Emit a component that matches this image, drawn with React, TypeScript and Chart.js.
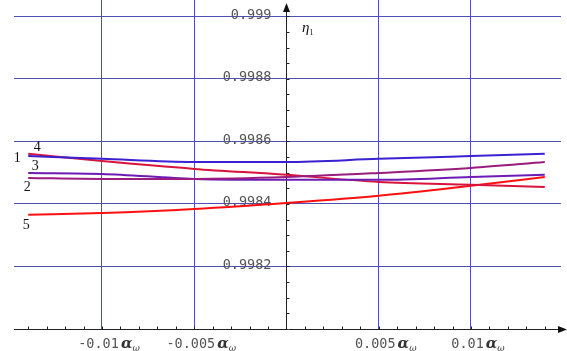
import React, { useEffect, useRef } from 'react';
import { Chart, registerables } from 'chart.js';

Chart.register(...registerables);

// ---- data ----
const xValues = [-0.014, -0.01, -0.005, 0, 0.005, 0.01, 0.014];
const curve1 = [0.998553, 0.998544, 0.998534, 0.998534, 0.998544, 0.998553, 0.99856];
const curve2 = [0.998483, 0.99848, 0.99848, 0.998486, 0.998499, 0.998515, 0.998534];
const curve3 = [0.998499, 0.998496, 0.99848, 0.998477, 0.998477, 0.998486, 0.998493];
const curve4 = [0.99856, 0.998537, 0.998512, 0.998493, 0.99847, 0.998461, 0.998454];
const curve5 = [0.998365, 0.998371, 0.998384, 0.998403, 0.998426, 0.998458, 0.998486];
const seriesNames = ['1', '2', '3', '4', '5'];
const seriesColors = ['#3a22d2', '#9a1c7e', '#6c1cb4', '#d8143c', '#ff1010'];
const xTickValues = [-0.01, -0.005, 0.005, 0.01];
const xTickLabels = ['-0.01', '-0.005', '0.005', '0.01'];
const yTickValues = [0.9982, 0.9984, 0.9986, 0.9988, 0.999];
const yTickLabels = ['0.9982', '0.9984', '0.9986', '0.9988', '0.999'];
const xMinorStep = 0.001;
const yMinorStep = 0.00005;
const xRange = [-0.01477, 0.01488];
const yRange = [0.998, 0.999052];

// label offsets (pixels) from the first point of each series
const nameOffsets: [number, number][] = [
  [-11, 2],
  [-1, 9],
  [7, -7],
  [9, -7],
  [-2, 10],
];

export default function App() {
  const ref = useRef<HTMLCanvasElement | null>(null);

  useEffect(() => {
    const canvas = ref.current;
    if (!canvas) return;
    const allSeries = [curve1, curve2, curve3, curve4, curve5];

    const decor = {
      id: 'decor',
      beforeDatasetsDraw(chart: any) {
        const ctx = chart.ctx as CanvasRenderingContext2D;
        const xs = chart.scales.x;
        const ys = chart.scales.y;
        const area = chart.chartArea;
        const ax = Math.round(xs.getPixelForValue(0)) + 0.5;
        const ay = Math.round(ys.getPixelForValue(yRange[0])) + 0.5;
        ctx.save();
        // y tick labels
        ctx.fillStyle = '#555';
        ctx.font = '13.5px "DejaVu Sans Mono", monospace';
        ctx.textAlign = 'right';
        ctx.textBaseline = 'middle';
        yTickValues.forEach((v, i) => {
          ctx.fillText(yTickLabels[i], ax - 15, ys.getPixelForValue(v) - 1);
        });
        // axes
        ctx.strokeStyle = '#222';
        ctx.fillStyle = '#111';
        ctx.lineWidth = 1;
        ctx.beginPath();
        ctx.moveTo(ax, ay);
        ctx.lineTo(ax, 6);
        ctx.moveTo(area.left, ay);
        ctx.lineTo(563, ay);
        ctx.stroke();
        // arrows
        ctx.beginPath();
        ctx.moveTo(ax, 3);
        ctx.lineTo(ax - 3.5, 12);
        ctx.lineTo(ax + 3.5, 12);
        ctx.closePath();
        ctx.fill();
        ctx.beginPath();
        ctx.moveTo(567, ay);
        ctx.lineTo(558, ay - 3.5);
        ctx.lineTo(558, ay + 3.5);
        ctx.closePath();
        ctx.fill();
        // minor ticks
        ctx.beginPath();
        for (let k = -14; k <= 14; k++) {
          if (k === 0) continue;
          const px = Math.round(xs.getPixelForValue(k * xMinorStep)) + 0.5;
          ctx.moveTo(px, ay);
          ctx.lineTo(px, ay - 3);
        }
        for (let k = 1; k <= 20; k++) {
          const py = Math.round(ys.getPixelForValue(yRange[0] + k * yMinorStep)) + 0.5;
          ctx.moveTo(ax, py);
          ctx.lineTo(ax + 3, py);
        }
        ctx.stroke();
        // x tick labels
        xTickValues.forEach((v, i) => {
          const cx = xs.getPixelForValue(v) + 7;
          const numFont = '13.5px "DejaVu Sans Mono", monospace';
          const aFont = 'italic bold 15px "DejaVu Serif", serif';
          const wFont = 'italic 9px "DejaVu Serif", serif';
          ctx.font = numFont;
          const w1 = ctx.measureText(xTickLabels[i]).width;
          ctx.font = aFont;
          const w2 = ctx.measureText('α').width;
          ctx.font = wFont;
          const w3 = ctx.measureText('ω').width;
          let x0 = cx - (w1 + w2 + w3 + 2) / 2;
          ctx.textAlign = 'left';
          ctx.textBaseline = 'alphabetic';
          ctx.fillStyle = '#555';
          ctx.font = numFont;
          ctx.fillText(xTickLabels[i], x0, 348);
          x0 += w1 + 2;
          ctx.fillStyle = '#333';
          ctx.font = aFont;
          ctx.fillText('α', x0, 348);
          x0 += w2;
          ctx.font = wFont;
          ctx.fillText('ω', x0, 351);
        });
        // axis title
        ctx.fillStyle = '#111';
        ctx.font = 'italic 15px "Liberation Serif", serif';
        ctx.fillText('η', 302, 32);
        ctx.font = '8px "Liberation Serif", serif';
        ctx.fillText('1', 309.5, 35);
        // series names
        ctx.font = '14px "Liberation Serif", serif';
        ctx.textAlign = 'center';
        ctx.textBaseline = 'middle';
        allSeries.forEach((s, i) => {
          const px = xs.getPixelForValue(xValues[0]) + nameOffsets[i][0];
          const py = ys.getPixelForValue(s[0]) + nameOffsets[i][1];
          ctx.fillText(seriesNames[i], px, py);
        });
        ctx.restore();
      },
    };

    const chart = new Chart(canvas, {
      type: 'line',
      data: {
        datasets: allSeries.map((s, i) => ({
          label: seriesNames[i],
          data: xValues.map((x, j) => ({ x, y: s[j] })),
          borderColor: seriesColors[i],
          borderWidth: 2,
          pointRadius: 0,
          fill: false,
          cubicInterpolationMode: 'monotone' as const,
        })),
      },
      options: {
        animation: false,
        responsive: false,
        layout: { padding: { left: 14, right: 6, top: 0, bottom: 22 } },
        plugins: { legend: { display: false }, tooltip: { enabled: false } },
        scales: {
          x: {
            type: 'linear',
            position: 'bottom',
            min: xRange[0],
            max: xRange[1],
            bounds: 'data',
            afterBuildTicks: (scale: any) => {
              scale.ticks = xTickValues.map((value) => ({ value }));
            },
            ticks: { display: false },
            border: { display: false },
            grid: { color: '#5050b4', lineWidth: 1, drawTicks: false },
          },
          y: {
            type: 'linear',
            position: 'left',
            min: yRange[0],
            max: yRange[1],
            bounds: 'data',
            afterBuildTicks: (scale: any) => {
              scale.ticks = yTickValues.map((value) => ({ value }));
            },
            ticks: { display: false },
            border: { display: false },
            grid: { color: '#5050b4', lineWidth: 1, drawTicks: false },
          },
        },
      },
      plugins: [decor],
    });
    return () => chart.destroy();
  }, []);

  return (
    <div style={{ position: 'absolute', left: 0, top: 0, width: 567, height: 351, background: '#fff' }}>
      <canvas ref={ref} width={567} height={351} style={{ width: 567, height: 351 }} />
    </div>
  );
}
